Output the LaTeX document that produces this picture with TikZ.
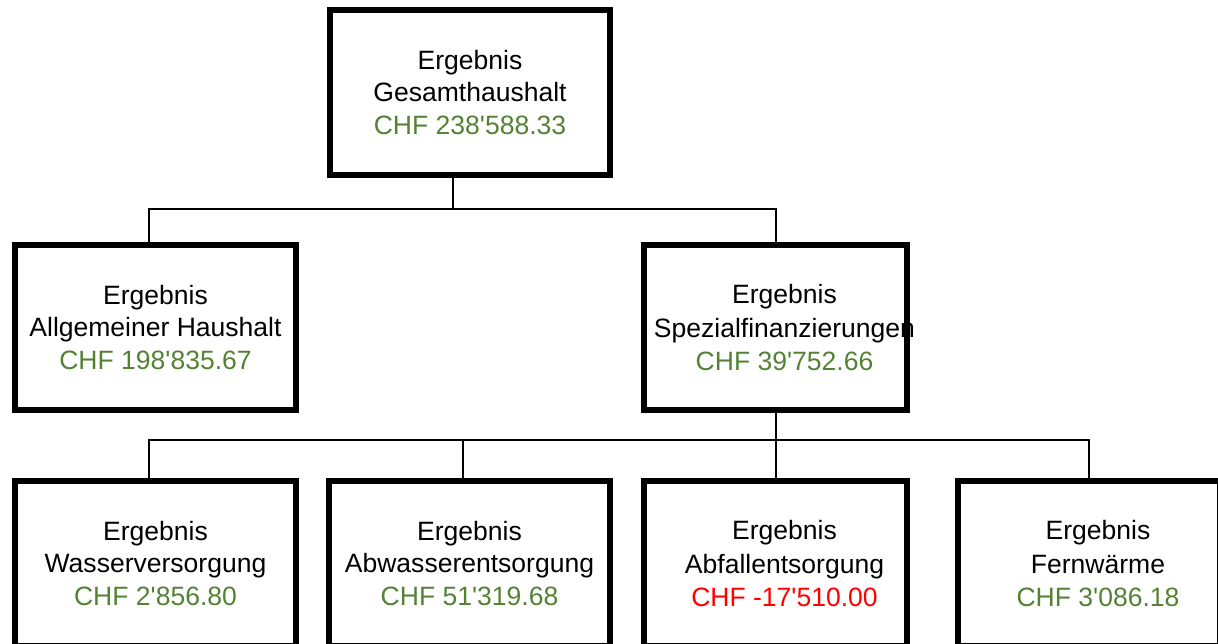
\documentclass[tikz,border=0pt]{standalone}
\usepackage{fontspec}
\setmainfont{Liberation Sans}
\usepackage{xcolor}
\usetikzlibrary{calc, positioning}
\definecolor{chfgreen}{RGB}{84,130,53}
\definecolor{chfred}{RGB}{255,0,0}
\newcommand{\q}{\textquotesingle}
\newcommand{\shifted}[1]{\makebox[0pt]{\hspace{0.36cm}\raisebox{-0.06cm}[\height][\depth]{\renewcommand{\arraystretch}{1.02}\begin{tabular}{@{}c@{}}#1\end{tabular}}}}

\begin{document}
\begin{tikzpicture}[x=0.02cm, y=-0.02cm,
  box/.style={draw, line width=0.12cm, inner xsep=0pt, minimum width=5.62cm, minimum height=3.3cm, align=center, font=\fontsize{15.1}{18.7}\selectfont},
  narrowbox/.style={box, minimum width=5.26cm},
  conn/.style={line width=0.04cm}]
\useasboundingbox (0,0) rectangle (1218,643);
% nodes %
\node[box] (gesamt) at (470,92.5) {Ergebnis\\Gesamthaushalt\\\textcolor{chfgreen}{CHF 238\q588.33}};
\node[box] (allg) at (155.5,327.5) {Ergebnis\\Allgemeiner Haushalt\\\textcolor{chfgreen}{CHF 198\q835.67}};
\node[narrowbox] (spez) at (775.5,327.5) {\shifted{Ergebnis\\Spezialfinanzierungen\\\textcolor{chfgreen}{CHF 39\q752.66}}};
\node[box] (wasser) at (155.5,563.5) {Ergebnis\\Wasserversorgung\\\textcolor{chfgreen}{CHF 2\q856.80}};
\node[box] (abwasser) at (469.5,563.5) {Ergebnis\\Abwasserentsorgung\\\textcolor{chfgreen}{CHF 51\q319.68}};
\node[narrowbox] (abfall) at (775.5,563.5) {\shifted{Ergebnis\\Abfallentsorgung\\\textcolor{chfred}{CHF -17\q510.00}}};
\node[narrowbox] (fern) at (1089,563.5) {\shifted{Ergebnis\\Fernwärme\\\textcolor{chfgreen}{CHF 3\q086.18}}};
% edges %
\coordinate (bus1) at (453,209);
\coordinate (bus2) at (776,440);
\draw[conn] (gesamt.south -| bus1) -- (bus1);
\draw[conn] ([xshift=-0.14cm]allg.north) |- (bus1) -| (spez.north);
\draw[conn] (spez.south) -- (abfall.north);
\draw[conn] ([xshift=-0.14cm]wasser.north) |- (bus2) -| (fern.north);
\draw[conn] ([xshift=-0.14cm]abwasser.north) -- ([xshift=-0.14cm]abwasser.north |- bus2);
\end{tikzpicture}
\end{document}
